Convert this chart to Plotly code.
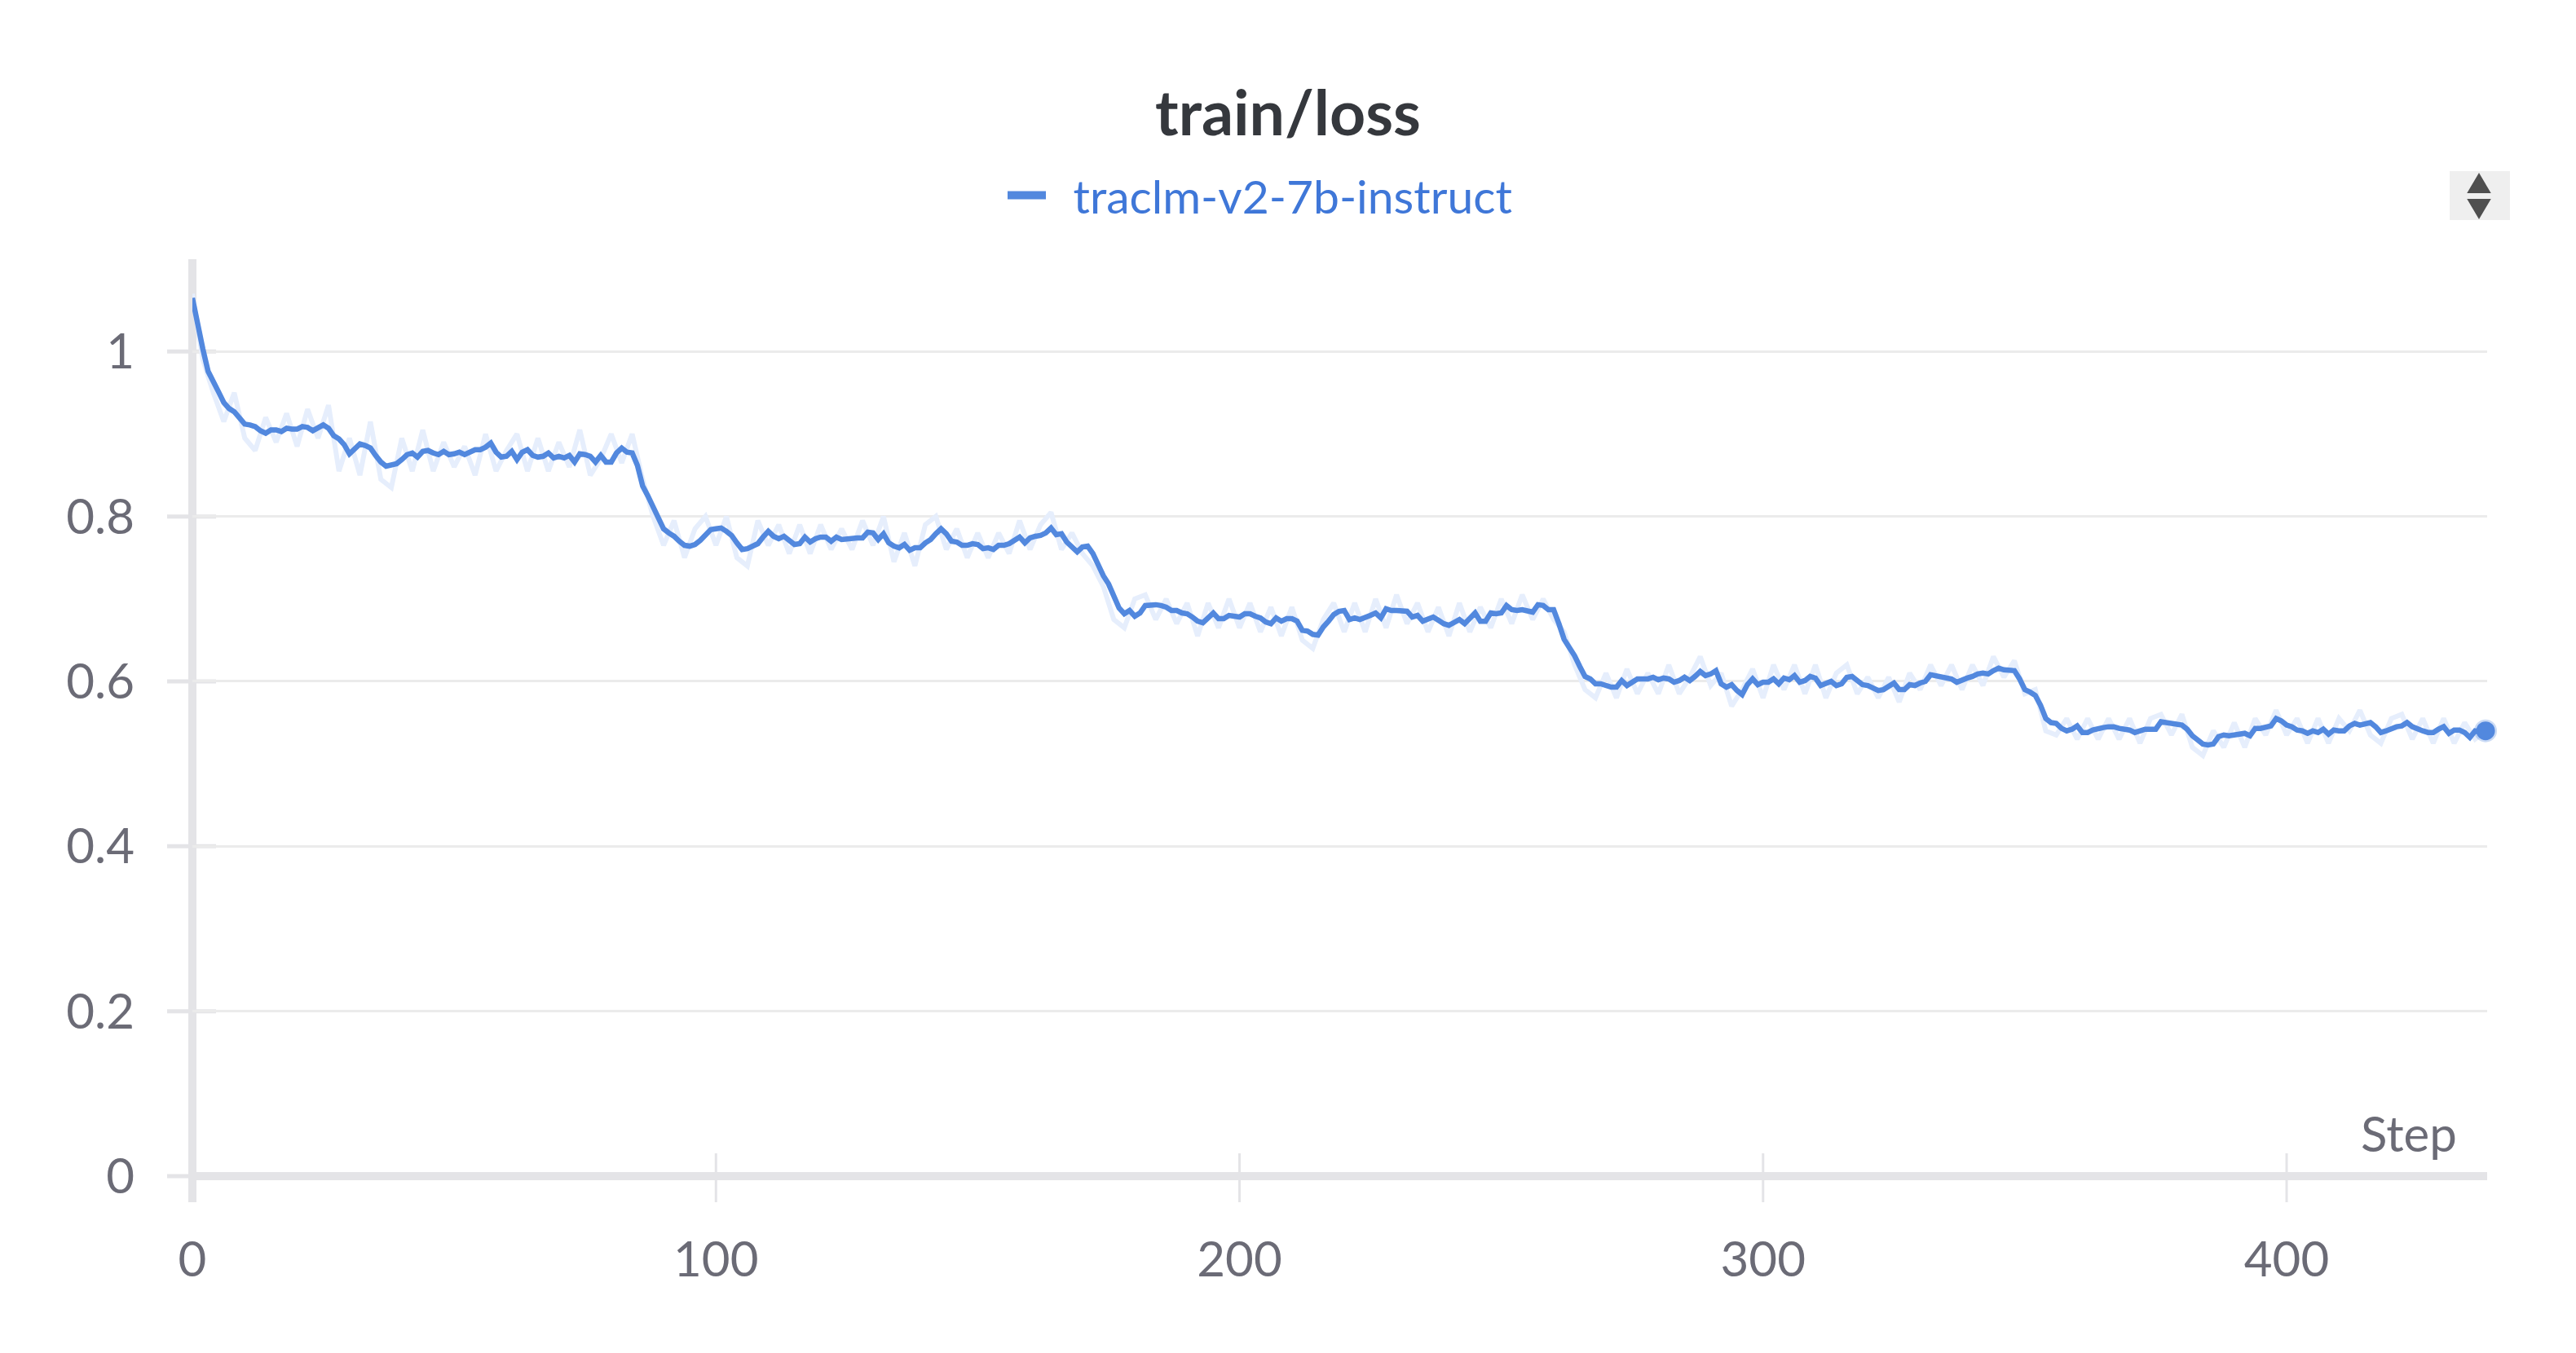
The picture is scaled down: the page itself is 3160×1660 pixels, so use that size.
import plotly.graph_objects as go

# ---------------- data ----------------
series_name = "traclm-v2-7b-instruct"
chart_title = "train/loss"
x_label = "Step"
x_tick_vals = [0, 100, 200, 300, 400]
y_tick_vals = [0, 0.2, 0.4, 0.6, 0.8, 1.0]
y_tick_text = ["0", "0.2", "0.4", "0.6", "0.8", "1"]

# smoothed loss, one value per step (0..438)
smooth_loss = [
    1.065, 1.030, 1.003, 0.976, 0.962, 0.951, 0.938, 0.931, 0.927, 0.920,
    0.912, 0.911, 0.909, 0.904, 0.901, 0.905, 0.905, 0.903, 0.907, 0.906,
    0.906, 0.909, 0.908, 0.904, 0.907, 0.911, 0.907, 0.898, 0.894, 0.887,
    0.876, 0.882, 0.888, 0.886, 0.883, 0.874, 0.866, 0.861, 0.863, 0.864,
    0.869, 0.875, 0.877, 0.872, 0.879, 0.880, 0.877, 0.875, 0.879, 0.875,
    0.876, 0.878, 0.875, 0.878, 0.881, 0.881, 0.884, 0.889, 0.878, 0.872,
    0.873, 0.879, 0.869, 0.878, 0.881, 0.874, 0.872, 0.873, 0.877, 0.871,
    0.873, 0.871, 0.874, 0.866, 0.876, 0.875, 0.873, 0.866, 0.874, 0.866,
    0.866, 0.877, 0.883, 0.878, 0.877, 0.862, 0.837, 0.825, 0.812, 0.797,
    0.785, 0.780, 0.776, 0.770, 0.765, 0.764, 0.766, 0.771, 0.778, 0.784,
    0.785, 0.786, 0.782, 0.777, 0.768, 0.760, 0.761, 0.764, 0.767, 0.775,
    0.782, 0.776, 0.773, 0.776, 0.770, 0.766, 0.767, 0.775, 0.769, 0.773,
    0.775, 0.775, 0.770, 0.775, 0.772, 0.773, 0.773, 0.774, 0.774, 0.781,
    0.780, 0.772, 0.779, 0.768, 0.764, 0.762, 0.766, 0.759, 0.762, 0.762,
    0.768, 0.772, 0.779, 0.785, 0.779, 0.770, 0.769, 0.765, 0.765, 0.767,
    0.766, 0.761, 0.762, 0.760, 0.765, 0.765, 0.767, 0.772, 0.775, 0.768,
    0.774, 0.776, 0.777, 0.780, 0.786, 0.778, 0.779, 0.769, 0.763, 0.757,
    0.763, 0.764, 0.755, 0.741, 0.728, 0.718, 0.703, 0.689, 0.682, 0.686,
    0.679, 0.683, 0.692, 0.693, 0.693, 0.692, 0.690, 0.686, 0.686, 0.683,
    0.682, 0.678, 0.673, 0.671, 0.678, 0.683, 0.676, 0.676, 0.680, 0.679,
    0.678, 0.682, 0.682, 0.679, 0.677, 0.672, 0.670, 0.677, 0.673, 0.676,
    0.676, 0.673, 0.662, 0.661, 0.657, 0.656, 0.666, 0.673, 0.681, 0.685,
    0.686, 0.675, 0.677, 0.675, 0.677, 0.680, 0.683, 0.677, 0.688, 0.686,
    0.686, 0.685, 0.685, 0.678, 0.680, 0.673, 0.676, 0.678, 0.674, 0.670,
    0.668, 0.672, 0.675, 0.670, 0.676, 0.683, 0.673, 0.673, 0.683, 0.682,
    0.683, 0.692, 0.687, 0.686, 0.687, 0.685, 0.684, 0.693, 0.692, 0.687,
    0.687, 0.670, 0.651, 0.641, 0.631, 0.618, 0.606, 0.603, 0.597, 0.597,
    0.595, 0.593, 0.593, 0.601, 0.595, 0.599, 0.603, 0.603, 0.603, 0.605,
    0.602, 0.604, 0.603, 0.599, 0.601, 0.605, 0.601, 0.606, 0.612, 0.607,
    0.609, 0.613, 0.597, 0.593, 0.596, 0.589, 0.584, 0.596, 0.603, 0.596,
    0.599, 0.599, 0.603, 0.597, 0.604, 0.602, 0.607, 0.599, 0.601, 0.606,
    0.604, 0.595, 0.598, 0.600, 0.595, 0.597, 0.605, 0.606, 0.601, 0.596,
    0.595, 0.592, 0.589, 0.590, 0.594, 0.598, 0.590, 0.590, 0.596, 0.595,
    0.598, 0.600, 0.608, 0.607, 0.605, 0.604, 0.603, 0.599, 0.602, 0.604,
    0.606, 0.609, 0.610, 0.609, 0.613, 0.616, 0.614, 0.614, 0.613, 0.603,
    0.590, 0.587, 0.583, 0.571, 0.555, 0.550, 0.549, 0.543, 0.540, 0.542,
    0.546, 0.538, 0.538, 0.541, 0.543, 0.544, 0.545, 0.545, 0.543, 0.542,
    0.541, 0.538, 0.540, 0.542, 0.542, 0.542, 0.551, 0.550, 0.549, 0.547,
    0.547, 0.542, 0.534, 0.529, 0.524, 0.523, 0.524, 0.533, 0.535, 0.534,
    0.535, 0.537, 0.537, 0.534, 0.543, 0.543, 0.544, 0.546, 0.555, 0.552,
    0.547, 0.545, 0.541, 0.540, 0.537, 0.540, 0.538, 0.542, 0.536, 0.541,
    0.540, 0.540, 0.546, 0.549, 0.547, 0.549, 0.550, 0.545, 0.538, 0.540,
    0.543, 0.545, 0.546, 0.550, 0.545, 0.542, 0.540, 0.538, 0.538, 0.542,
    0.545, 0.537, 0.541, 0.541, 0.538, 0.532, 0.540, 0.539, 0.540,
]
smooth_steps = list(range(len(smooth_loss)))

# raw (unsmoothed) loss, every second step (0, 2, ..., 438)
raw_loss = [
    1.07, 0.99, 0.95, 0.915, 0.95, 0.895, 0.88, 0.92, 0.89, 0.925,
    0.885, 0.93, 0.895, 0.935, 0.855, 0.895, 0.85, 0.915, 0.845, 0.835,
    0.895, 0.855, 0.905, 0.855, 0.89, 0.86, 0.885, 0.85, 0.90, 0.855,
    0.88, 0.90, 0.855, 0.895, 0.855, 0.89, 0.86, 0.905, 0.85, 0.87,
    0.90, 0.865, 0.90, 0.845, 0.80, 0.765, 0.795, 0.75, 0.785, 0.80,
    0.765, 0.80, 0.75, 0.74, 0.795, 0.765,
    0.79, 0.755, 0.79, 0.755, 0.79, 0.76, 0.785, 0.76, 0.795, 0.765,
    0.80, 0.745, 0.78, 0.74, 0.79, 0.80, 0.76, 0.785, 0.75, 0.78,
    0.75, 0.78, 0.755, 0.795, 0.76, 0.79, 0.805, 0.76, 0.78, 0.755,
    0.74, 0.715, 0.675, 0.665, 0.70, 0.705, 0.675, 0.70, 0.67, 0.695,
    0.655, 0.695, 0.665, 0.70, 0.665, 0.695, 0.66, 0.69, 0.655, 0.69,
    0.65, 0.64, 0.675, 0.695, 0.66,
    0.695, 0.66, 0.70, 0.665, 0.705, 0.67, 0.695, 0.66, 0.69, 0.655,
    0.695, 0.66, 0.69, 0.665, 0.70, 0.67, 0.705, 0.675, 0.70, 0.675,
    0.66, 0.62, 0.59, 0.58, 0.61, 0.58, 0.615, 0.585, 0.61, 0.585,
    0.62, 0.585, 0.605, 0.63, 0.595, 0.61, 0.57, 0.59, 0.615, 0.58,
    0.62, 0.59, 0.62, 0.585, 0.62, 0.58, 0.61, 0.62, 0.585, 0.605,
    0.58, 0.605, 0.575, 0.61, 0.59,
    0.62, 0.595, 0.62, 0.59, 0.62, 0.595, 0.63, 0.605, 0.625, 0.585,
    0.59, 0.54, 0.535, 0.555, 0.53, 0.555, 0.53, 0.555, 0.53, 0.555,
    0.525, 0.555, 0.56, 0.535, 0.56, 0.52, 0.51, 0.54, 0.52, 0.55,
    0.52, 0.555, 0.535, 0.565, 0.535, 0.555, 0.525, 0.555, 0.525, 0.555,
    0.54, 0.565, 0.535, 0.525, 0.555, 0.56, 0.53, 0.555, 0.525, 0.555,
    0.525, 0.55, 0.53, 0.54,
]
raw_steps = list(range(0, 2 * len(raw_loss), 2))

# ---------------- styling ----------------
W, H = 3160, 1660
L, R, T, B = 236, 109, 318, 217
PW, PH = W - L - R, H - T - B
FONT = "Lato"
LINE_BLUE = "#5288de"
RAW_BLUE = "#e6eefc"
LEGEND_BLUE = "#3f77d8"
TICK_GRAY = "#6b6b76"
AXIS_GRAY = "#e4e4e7"
GRID_GRAY = "#ebebeb"
X_MAX = 438.3
Y_MAX = 1.112


def px_x(px):
    return (px - L) / PW


def px_y(py):
    return (H - B - py) / PH


fig = go.Figure()
fig.add_trace(go.Scatter(x=raw_steps, y=raw_loss, mode="lines",
                         line=dict(color=RAW_BLUE, width=6),
                         showlegend=False, hoverinfo="skip"))
fig.add_trace(go.Scatter(x=smooth_steps, y=smooth_loss, mode="lines",
                         line=dict(color=LINE_BLUE, width=6.5),
                         showlegend=False))
fig.add_trace(go.Scatter(x=smooth_steps[-1:], y=smooth_loss[-1:], mode="markers",
                         marker=dict(color=LINE_BLUE, size=23,
                                     line=dict(color="rgba(82,136,222,0.3)", width=5)),
                         cliponaxis=False, showlegend=False))
# legend entry
fig.add_trace(go.Scatter(x=[None], y=[None], mode="lines",
                         line=dict(color=LINE_BLUE, width=10),
                         name="\u2002" + series_name, showlegend=True))

shapes = []
# axis lines (paper-referenced so they are not clipped)
shapes.append(dict(type="line", xref="paper", yref="paper", x0=0, x1=0,
                   y0=-32 / PH, y1=1,
                   line=dict(color=AXIS_GRAY, width=10), layer="below"))
shapes.append(dict(type="line", xref="paper", yref="paper", x0=-5 / PW, x1=1,
                   y0=0, y1=0,
                   line=dict(color=AXIS_GRAY, width=10), layer="below"))
# tick marks crossing the axes
for v in y_tick_vals:
    shapes.append(dict(type="line", xref="paper", yref="paper", xsizemode="pixel",
                       xanchor=0, x0=-31, x1=29, y0=v / Y_MAX, y1=v / Y_MAX,
                       line=dict(color=AXIS_GRAY, width=5), layer="below"))
for v in x_tick_vals:
    shapes.append(dict(type="line", xref="paper", yref="paper", ysizemode="pixel",
                       yanchor=0, x0=v / X_MAX, x1=v / X_MAX, y0=-32, y1=28,
                       line=dict(color=AXIS_GRAY, width=3), layer="below"))
# legend scroll control (top right)
shapes.append(dict(type="rect", xref="paper", yref="paper",
                   x0=px_x(3005), x1=px_x(3079), y0=px_y(270), y1=px_y(210),
                   fillcolor="#efefef", line=dict(width=0), layer="above"))
up = "M {} {} L {} {} L {} {} Z".format(px_x(3028), px_y(236), px_x(3041), px_y(214),
                                         px_x(3054), px_y(236))
down = "M {} {} L {} {} L {} {} Z".format(px_x(3028), px_y(245), px_x(3041), px_y(267),
                                           px_x(3054), px_y(245))
for p in (up, down):
    shapes.append(dict(type="path", xref="paper", yref="paper", path=p,
                       fillcolor="#4f4f4f", line=dict(color="#4f4f4f", width=2),
                       layer="above"))

fig.update_layout(
    width=W, height=H,
    margin=dict(l=L, r=R, t=T, b=B, pad=0),
    paper_bgcolor="white", plot_bgcolor="white",
    font=dict(family=FONT, color=TICK_GRAY, size=60),
    title=dict(text=chart_title, x=0.5, xref="container", xanchor="center",
               y=1 - 139 / H, yref="container", yanchor="middle",
               font=dict(family=FONT, size=77, color="#35383d", weight=700)),
    showlegend=True,
    legend=dict(orientation="h", xref="container", yref="container",
                x=1231 / W, xanchor="left", y=1 - 240 / H, yanchor="middle",
                font=dict(family=FONT, size=57, color=LEGEND_BLUE),
                bgcolor="rgba(0,0,0,0)", borderwidth=0, itemwidth=47),
    xaxis=dict(range=[0, X_MAX], showgrid=False, zeroline=False, showline=False,
               tickmode="array", tickvals=x_tick_vals,
               ticks="", ticklabelstandoff=62,
               tickfont=dict(family=FONT, size=60, color=TICK_GRAY)),
    yaxis=dict(range=[0, Y_MAX], showgrid=True, gridcolor=GRID_GRAY, gridwidth=3,
               zeroline=False, showline=False,
               tickmode="array", tickvals=y_tick_vals, ticktext=y_tick_text,
               ticks="", ticklabelstandoff=70,
               tickfont=dict(family=FONT, size=60, color=TICK_GRAY)),
    shapes=shapes,
    annotations=[dict(text=x_label, xref="paper", yref="paper",
                      x=px_x(3016), y=px_y(1390), xanchor="right", yanchor="middle",
                      showarrow=False, font=dict(family=FONT, size=60, color=TICK_GRAY))],
)

fig.write_html("out.html", config={"displayModeBar": False},
               post_script="document.body.style.margin='0';document.body.style.overflow='hidden';")
